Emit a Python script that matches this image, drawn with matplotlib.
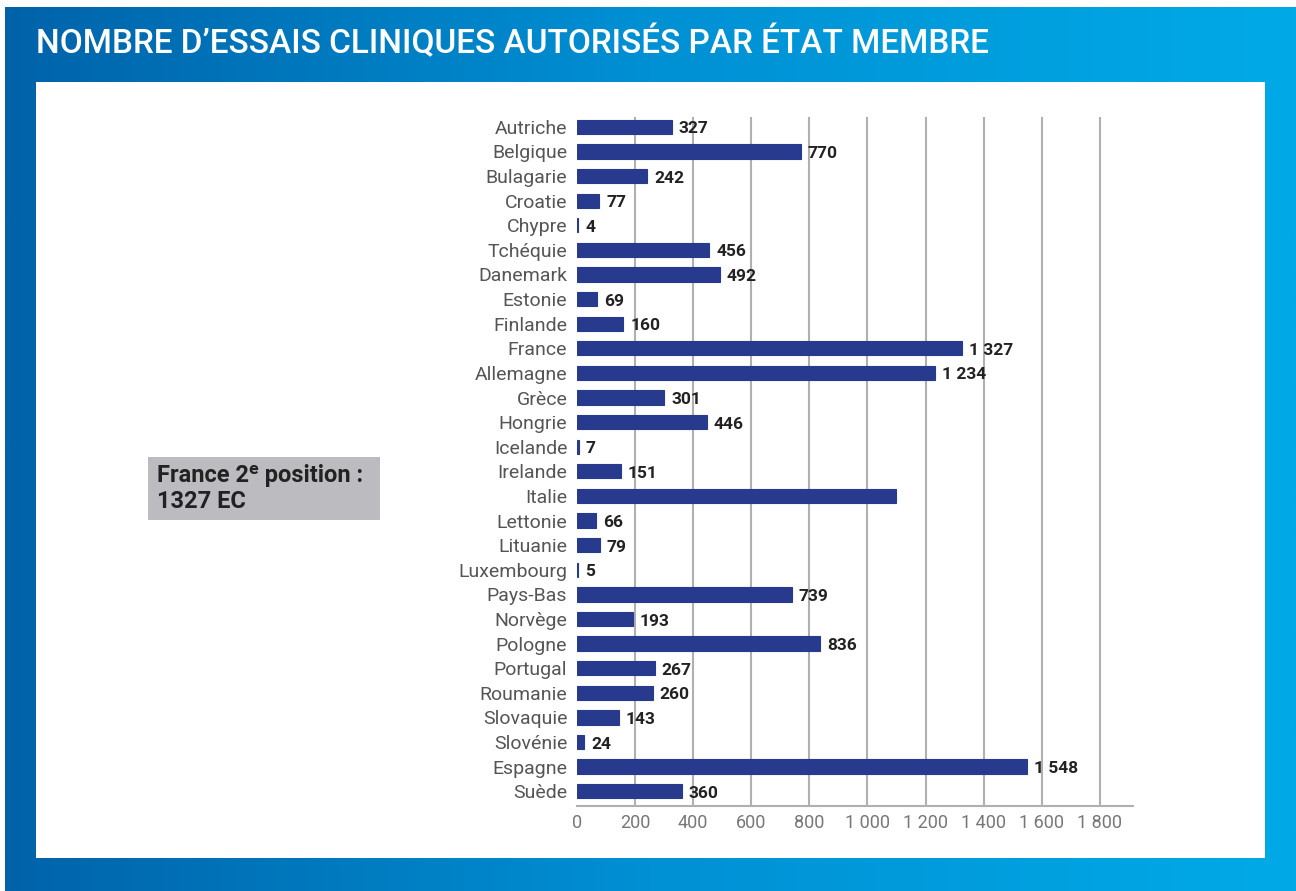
import numpy as np
import matplotlib
matplotlib.use("Agg")
import matplotlib.pyplot as plt
from matplotlib.colors import LinearSegmentedColormap

# ---- data ----
countries = ["Autriche", "Belgique", "Bulagarie", "Croatie", "Chypre", "Tchéquie",
             "Danemark", "Estonie", "Finlande", "France", "Allemagne", "Grèce",
             "Hongrie", "Icelande", "Irelande", "Italie", "Lettonie", "Lituanie",
             "Luxembourg", "Pays-Bas", "Norvège", "Pologne", "Portugal", "Roumanie",
             "Slovaquie", "Slovénie", "Espagne", "Suède"]
values = [327, 770, 242, 77, 4, 456, 492, 69, 160, 1327, 1234, 301, 446, 7, 151,
          1098, 66, 79, 5, 739, 193, 836, 267, 260, 143, 24, 1548, 360]
value_labels = ["327", "770", "242", "77", "4", "456", "492", "69", "160", "1 327",
                "1 234", "301", "446", "7", "151", "", "66", "79", "5", "739", "193",
                "836", "267", "260", "143", "24", "1 548", "360"]
xticks = [0, 200, 400, 600, 800, 1000, 1200, 1400, 1600, 1800]
xtick_labels = ["0", "200", "400", "600", "800", "1 000", "1 200", "1 400", "1 600", "1 800"]
title = "NOMBRE D\u2019ESSAIS CLINIQUES AUTORISÉS PAR ÉTAT MEMBRE"

W, H = 1296, 891
fig = plt.figure(figsize=(W / 100, H / 100), dpi=100)
fig.patch.set_facecolor("white")

# background gradient band
bg = fig.add_axes([5 / W, 0, 1 - 5 / W, 1 - 7 / H])
cmap = LinearSegmentedColormap.from_list("g", ["#0063aa", "#0090d4", "#00aae6"])
grad = np.linspace(0, 1, 512).reshape(1, -1)
bg.imshow(grad, aspect="auto", cmap=cmap, extent=[0, 1, 0, 1])
bg.set_axis_off()

# white panel
panel = fig.add_axes([36 / W, 1 - 858 / H, (1265 - 36) / W, (858 - 82) / H])
panel.set_facecolor("white")
panel.set_xticks([]); panel.set_yticks([])
for s in panel.spines.values():
    s.set_visible(False)

fig.text(36 / W, 1 - 43 / H, title, color="white", fontsize=24,
         family="Roboto", fontweight="medium", va="center", ha="left")

# main chart
x0, x1 = 577, 1133
y_top, y_bot = 117, 806
ax = fig.add_axes([x0 / W, 1 - y_bot / H, (x1 - x0) / W, (y_bot - y_top) / H])
n = len(countries)
pos = np.arange(n)
ax.barh(pos, values, height=0.58, color="#283a8e", edgecolor="#283a8e",
        linewidth=0.8, zorder=3)
ax.set_ylim(n - 0.4, -0.4)
ax.set_xlim(0, 1914)
ax.set_yticks(pos)
ax.set_yticklabels(countries, fontsize=14, color="#555555", family="Roboto")
ax.set_xticks(xticks)
ax.set_xticklabels(xtick_labels, fontsize=13, color="#777777", family="Roboto")
ax.tick_params(axis="both", length=0)
ax.tick_params(axis="y", pad=7)
ax.tick_params(axis="x", pad=6)
for xv in xticks[1:]:
    ax.axvline(xv, color="#b0b0b0", lw=1.5, zorder=1)
for s in ["top", "right", "left"]:
    ax.spines[s].set_visible(False)
ax.spines["bottom"].set_color("#b0b0b0")
ax.spines["bottom"].set_linewidth(1.5)
ax.set_facecolor("none")

for p, v, lab in zip(pos, values, value_labels):
    if lab:
        ax.annotate(lab, (v, p), xytext=(5, -1.5), textcoords="offset points",
                    va="center", ha="left", fontsize=12.5, fontweight="bold",
                    color="#222222", family="Roboto", zorder=4)

# annotation box
box = fig.add_axes([148 / W, 1 - 520 / H, (380 - 148) / W, (520 - 457) / H])
box.set_facecolor("#bcbcc0")
box.set_xticks([]); box.set_yticks([])
for s in box.spines.values():
    s.set_visible(False)
box.text(0.04, 0.5, "France 2\u1d49 position :\n1327 EC", transform=box.transAxes,
         fontsize=17, fontweight="bold", color="#222222", va="center", ha="left",
         family=["Roboto", "DejaVu Sans"], linespacing=1.2)

fig.savefig("out.png", dpi=100)
